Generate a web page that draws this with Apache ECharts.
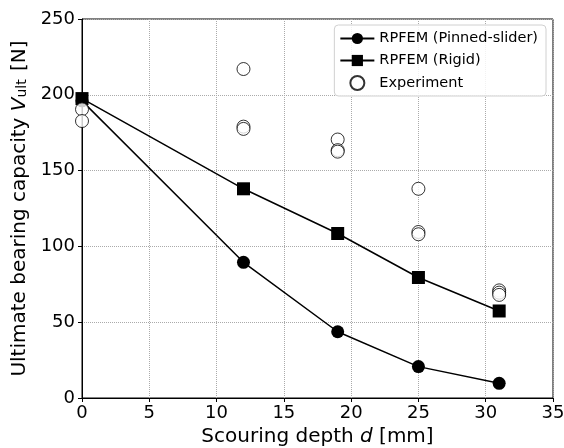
<!DOCTYPE html>
<html>
<head>
<meta charset="utf-8">
<script src="https://cdn.jsdelivr.net/npm/echarts@6/dist/echarts.min.js"></script>
<style>
  html, body { margin: 0; padding: 0; background: #fff; }
  #chart { width: 564px; height: 448px; }
</style>
</head>
<body>
<div id="chart"></div>
<script>
// scouring depth d [mm]
const depths = [0, 12, 19, 25, 31];
const pinnedSlider = [196, 89.5, 43.7, 20.7, 9.7];
const rigid = [197.5, 138, 108.5, 79.5, 57.4];
// experiment: [d, Vult]
const experiment = [
  [0, 190.4], [0, 182.7],
  [12, 217], [12, 179], [12, 177.5],
  [19, 170.5], [19, 163.5], [19, 162.5],
  [25, 138], [25, 109.5], [25, 108],
  [31, 71], [31, 69.5], [31, 68]
];

const font = "DejaVu Sans";
const chart = echarts.init(document.getElementById("chart"));

function pairs(xs, ys) {
  return xs.map((x, i) => [x, ys[i]]);
}

chart.setOption({
  animation: false,
  grid: {
    left: 82, right: 11, top: 19, bottom: 50,
    outerBoundsMode: "none",
    containLabel: false,
    show: true, borderColor: "#000", borderWidth: 1
  },
  legend: {
    orient: "vertical",
    right: 18, top: 25,
    padding: [6, 8, 5, 5],
    itemGap: 7,
    itemWidth: 34, itemHeight: 14,
    borderColor: "#d0d0d0", borderWidth: 1, borderRadius: 4,
    backgroundColor: "rgba(255,255,255,0.85)",
    textStyle: { fontFamily: font, fontSize: 14.5, color: "#000" },
    data: ["RPFEM (Pinned-slider)", "RPFEM (Rigid)", "Experiment"]
  },
  xAxis: {
    type: "value",
    min: 0, max: 35, interval: 5,
    name: "Scouring depth {i|d} [mm]",
    nameLocation: "middle",
    nameGap: 27,
    nameTextStyle: {
      fontFamily: font, fontSize: 20, color: "#000",
      rich: { i: { fontFamily: font, fontSize: 20, fontStyle: "italic", color: "#000" } }
    },
    axisLine: { lineStyle: { color: "#000", width: 1 } },
    axisTick: { length: 4, lineStyle: { color: "#000" } },
    axisLabel: { fontFamily: font, fontSize: 18, color: "#000", margin: 6 },
    splitLine: { show: true, lineStyle: { type: "dotted", color: "#aaa", width: 1 } }
  },
  yAxis: {
    type: "value",
    min: 0, max: 250, interval: 50,
    name: "Ultimate bearing capacity {i|V}{s|ult} [N]",
    nameLocation: "middle",
    nameGap: 48,
    nameTextStyle: {
      fontFamily: font, fontSize: 20, color: "#000",
      rich: {
        i: { fontFamily: font, fontSize: 20, fontStyle: "italic", color: "#000" },
        s: { fontFamily: font, fontSize: 14, color: "#000", verticalAlign: "bottom", padding: [0, 2, 0, 0] }
      }
    },
    axisLine: { show: true, lineStyle: { color: "#000", width: 1 } },
    axisTick: { show: true, length: 4, lineStyle: { color: "#000" } },
    axisLabel: { fontFamily: font, fontSize: 18, color: "#000", margin: 7 },
    splitLine: { show: true, lineStyle: { type: "dotted", color: "#aaa", width: 1 } }
  },
  series: [
    {
      name: "RPFEM (Pinned-slider)",
      type: "line",
      data: pairs(depths, pinnedSlider),
      symbol: "circle",
      symbolSize: 13,
      lineStyle: { color: "#000", width: 1.5 },
      itemStyle: { color: "#000" },
      z: 2
    },
    {
      name: "RPFEM (Rigid)",
      type: "line",
      data: pairs(depths, rigid),
      symbol: "rect",
      symbolSize: 13,
      lineStyle: { color: "#000", width: 1.5 },
      itemStyle: { color: "#000" },
      z: 2
    },
    {
      name: "Experiment",
      type: "scatter",
      data: experiment,
      symbol: "circle",
      symbolSize: 13,
      itemStyle: { color: "#fff", borderColor: "#000", borderWidth: 1 },
      z: 3
    }
  ]
});
</script>
</body>
</html>
